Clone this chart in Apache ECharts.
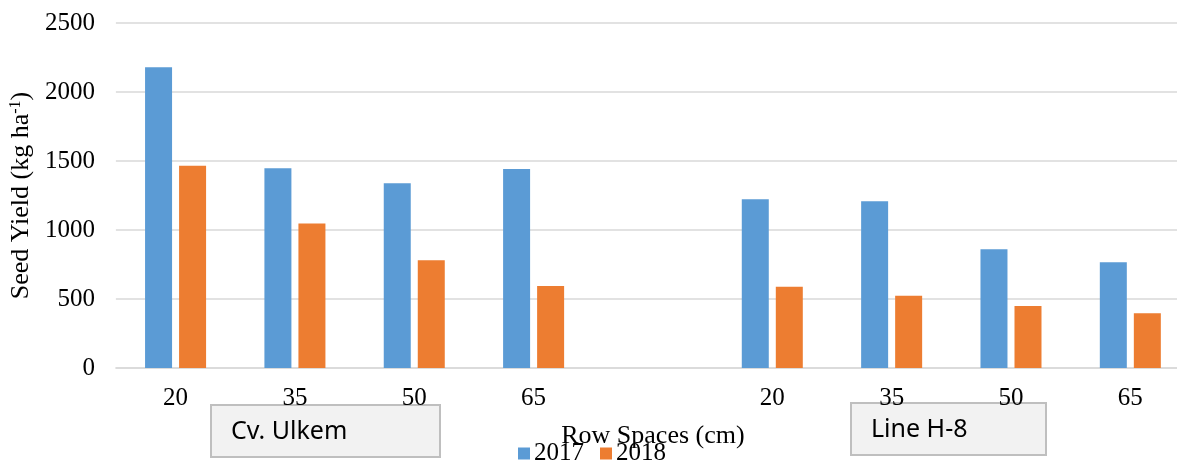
<!DOCTYPE html>
<html>
<head>
<meta charset="utf-8">
<script src="https://cdn.jsdelivr.net/npm/echarts@6/dist/echarts.min.js"></script>
<style>
html,body{margin:0;padding:0;background:#fff;overflow:hidden;width:1177px;height:461px;}
#chart{width:1190px;height:461px;}
</style>
</head>
<body>
<div id="chart"></div>
<script>
// Categories (row spacing, cm); empty slot separates the two genotypes
const categories = ['20', '35', '50', '65', '', '20', '35', '50', '65'];
const yield2017 = [2180, 1448, 1338, 1442, '-', 1222, 1208, 860, 766];
const yield2018 = [1466, 1048, 780, 594, '-', 589, 524, 449, 396];
const yTicks = [0, 500, 1000, 1500, 2000, 2500];
const groupLabels = ['Cv. Ulkem', 'Line H-8'];
const seriesNames = ['2017', '2018'];

const serif = '"Liberation Serif", "Times New Roman", serif';
const chart = echarts.init(document.getElementById('chart'), null, {renderer: 'canvas'});

chart.setOption({
  animation: false,
  backgroundColor: '#ffffff',
  grid: {left: 114, top: 23, width: 1076, height: 345, containLabel: false},
  legend: {
    data: seriesNames,
    left: 513,
    top: 436,
    itemWidth: 12,
    itemHeight: 12,
    itemGap: 16,
    icon: 'rect',
    textStyle: {fontFamily: serif, fontSize: 25, color: '#000', padding: [0, 0, 0, -1]}
  },
  xAxis: {
    type: 'category',
    data: categories,
    name: 'Row Spaces (cm)',
    nameLocation: 'middle',
    nameGap: 55,
    nameTextStyle: {fontFamily: serif, fontSize: 26, color: '#000'},
    axisLine: {show: true, lineStyle: {color: '#d9d9d9', width: 1.5}},
    axisTick: {show: false},
    axisLabel: {fontFamily: serif, fontSize: 25, color: '#000', margin: 18, interval: 0}
  },
  yAxis: {
    type: 'value',
    min: yTicks[0],
    max: yTicks[yTicks.length - 1],
    interval: 500,
    name: '{a|Seed Yield (kg ha}{s|-1}{a|)}',
    nameLocation: 'middle',
    nameGap: 77,
    nameTextStyle: {
      rich: {
        a: {fontFamily: serif, fontSize: 26, color: '#000'},
        s: {fontFamily: serif, fontSize: 16, color: '#000', verticalAlign: 'top', padding: [0, 0, 10, 0]}
      }
    },
    axisLine: {show: false},
    axisTick: {show: false},
    axisLabel: {fontFamily: serif, fontSize: 25, color: '#000', margin: 21, formatter: function (v) { return String(v); }},
    splitLine: {lineStyle: {color: '#d9d9d9', width: 1.5}}
  },
  series: [
    {
      name: seriesNames[0], type: 'bar', data: yield2017,
      barWidth: 27, barGap: '26%',
      itemStyle: {color: '#5b9bd5'}
    },
    {
      name: seriesNames[1], type: 'bar', data: yield2018,
      barWidth: 27, barGap: '26%',
      itemStyle: {color: '#ed7d31'}
    }
  ],
  graphic: [
    {
      type: 'group', left: 210, top: 404, z: 100,
      children: [
        {type: 'rect', shape: {x: 0, y: 0, width: 229, height: 52}, style: {fill: '#f2f2f2', stroke: '#bfbfbf', lineWidth: 2}},
        {type: 'text', x: 20, y: 27, style: {text: groupLabels[0], font: '25px "Noto Sans", "Open Sans", sans-serif', fill: '#000', textVerticalAlign: 'middle', verticalAlign: 'middle'}}
      ]
    },
    {
      type: 'group', left: 850, top: 402, z: 100,
      children: [
        {type: 'rect', shape: {x: 0, y: 0, width: 195, height: 52}, style: {fill: '#f2f2f2', stroke: '#bfbfbf', lineWidth: 2}},
        {type: 'text', x: 20, y: 27, style: {text: groupLabels[1], font: '25px "Noto Sans", "Open Sans", sans-serif', fill: '#000', textVerticalAlign: 'middle', verticalAlign: 'middle'}}
      ]
    }
  ]
});
</script>
</body>
</html>
